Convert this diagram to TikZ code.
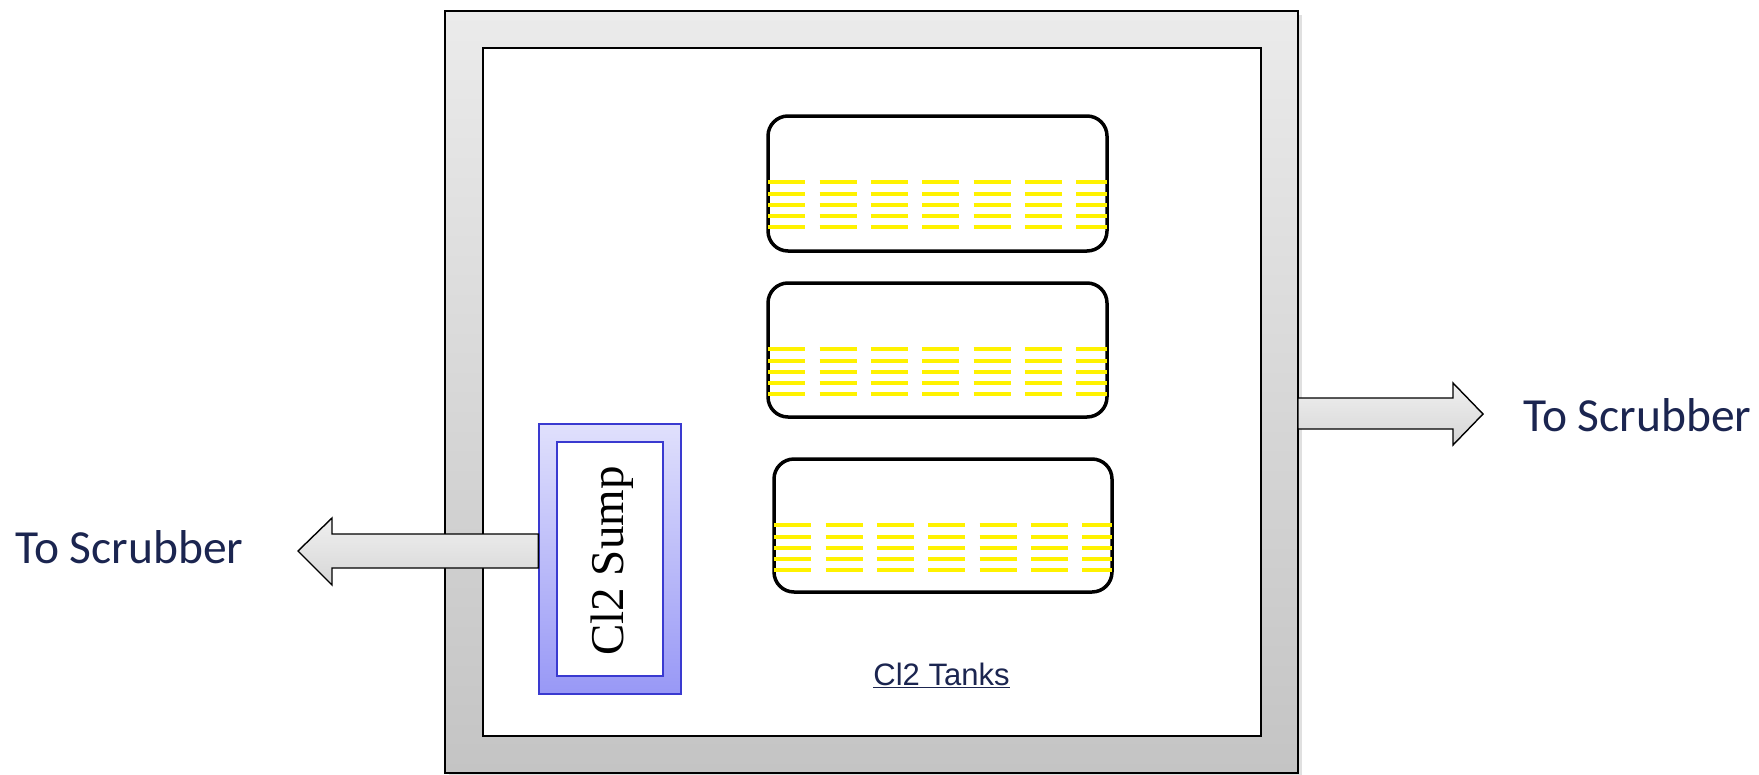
\documentclass[tikz,border=0pt]{standalone}
\usepackage{fontspec}
\setmainfont{Liberation Serif}
\newfontfamily\calib{Carlito}
\newfontfamily\arialf{Liberation Sans}
\usetikzlibrary{calc}
\definecolor{navy}{RGB}{27,37,80}
\definecolor{sumpblue}{RGB}{58,58,208}
\definecolor{sumptop}{RGB}{224,224,252}
\definecolor{sumpbot}{RGB}{152,152,246}
\definecolor{frametop}{RGB}{235,235,235}
\definecolor{framebot}{RGB}{196,196,196}
\tikzset{
  framebox/.style={draw=black, line width=1.6pt, top color=frametop, bottom color=framebot},
  innerbox/.style={draw=black, line width=1.6pt, fill=white},
  tank/.style={draw=black, line width=3.5pt, rounded corners=20pt, fill=white, inner sep=0pt},
  liquid/.style={draw=yellow, line width=4.2pt, dash pattern=on 37pt off 14.33pt},
  sumpouter/.style={draw=sumpblue, line width=1.4pt, top color=sumptop, bottom color=sumpbot},
  sumpinner/.style={draw=sumpblue, line width=1.4pt, fill=white},
  blockarrow/.style={draw=black, line width=1.4pt, line join=miter, top color=gray!12, bottom color=gray!32},
  lbl/.style={text=navy, font=\calib\fontsize{47.5}{56}\selectfont, inner sep=0pt},
}
\begin{document}
\begin{tikzpicture}[x=1pt,y=-1pt]
\useasboundingbox (0,0) rectangle (1759,774);
% frame
\fill[black!12] (449,15) rectangle (1302,777);
\draw[framebox] (445,11) rectangle (1298,773);
\coordinate (frameE) at (1298,413.5);
\draw[innerbox] (483,48) rectangle (1261,736);
% tanks
\node[tank, minimum width=339pt, minimum height=135pt] (t1) at (937.5,183.5) {};
\node[tank, minimum width=339pt, minimum height=134pt] (t2) at (937.5,350) {};
\node[tank, minimum width=338pt, minimum height=133pt] (t3) at (943,525.5) {};
\foreach \t in {t1,t2,t3}{
  \foreach \d in {68,80,91,102,113}{
    \draw[liquid] ($(\t.north west)+(2,\d)$) -- ($(\t.north east)+(-2,\d)$);
  }
}
\node[text=navy, font=\arialf\fontsize{31}{37}\selectfont, anchor=base, inner sep=0pt] (tanks) at (941.5,685) {\underline{Cl2 Tanks}};
% sump
\node[sumpouter, minimum width=142pt, minimum height=270pt, inner sep=0pt] (sump) at (610,559) {};
\node[sumpinner, minimum width=106pt, minimum height=234pt, inner sep=0pt] (sumpin) at (610,559) {};
\node[rotate=90, font=\fontsize{47}{56}\selectfont, inner sep=0pt] (sumptxt) at (612,561) {Cl2 Sump};
% left arrow
\draw[blockarrow] (sump.west |- 0,534) -- (332,534) -- (332,518) -- (298,551) -- (332,585) -- (332,568) -- (sump.west |- 0,568) -- cycle;
% right arrow
\draw[blockarrow] (frameE |- 0,398) -- (1453,398) -- (1453,383) -- (1483,414) -- (1453,445) -- (1453,429) -- (frameE |- 0,429) -- cycle;
% labels
\node[lbl, anchor=base west] (lblL) at (15,563) {To Scrubber};
\node[lbl, anchor=base west] (lblR) at (1523,431) {To Scrubber};
\end{tikzpicture}
\end{document}
